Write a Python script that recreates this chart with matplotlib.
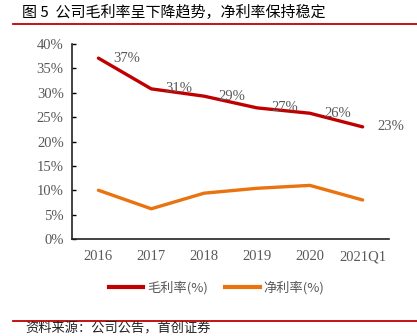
import matplotlib.pyplot as plt
import numpy as np
from matplotlib.lines import Line2D

plt.rcParams['font.family'] = ['Noto Sans CJK SC', 'DejaVu Sans']

years = ['2016', '2017', '2018', '2019', '2020', '2021Q1']
gross = [37.1, 30.8, 29.3, 26.9, 25.8, 23.0]
net = [10.0, 6.2, 9.4, 10.4, 11.0, 8.0]
gross_labels = ['37%', '31%', '29%', '27%', '26%', '23%']
yticks = [0, 5, 10, 15, 20, 25, 30, 35, 40]

red = '#C00000'
orange = '#E8730F'
grey = '#595959'
serif = 'Liberation Serif'

fig = plt.figure(figsize=(4.17, 3.36), dpi=100)
ax = fig.add_axes([0.1727, 0.2887, 0.933 - 0.1727, 0.869 - 0.2887])

x = np.arange(len(years))
ax.plot(x, gross, color=red, lw=2.4, solid_capstyle='round')
ax.plot(x, net, color=orange, lw=2.4, solid_capstyle='round')

for xi, yi, lab in zip(x, gross, gross_labels):
    ax.annotate(lab, (xi, yi), xytext=(20, 0), textcoords='offset points',
                ha='center', va='center', fontsize=10.5, color=grey, family=serif)

ax.set_xlim(-0.5, 5.5)
ax.set_ylim(0, 40)
ax.set_xticks(x)
ax.set_xticklabels(years, family=serif, fontsize=10.5, color=grey)
ax.set_yticks(yticks)
ax.set_yticklabels([f'{t}%' for t in yticks], family=serif, fontsize=10.5, color=grey)
ax.tick_params(axis='x', length=0, pad=8)
ax.tick_params(axis='y', direction='in', length=3, width=1, pad=6)
for s in ['top', 'right']:
    ax.spines[s].set_visible(False)
for s in ['left', 'bottom']:
    ax.spines[s].set_linewidth(1.2)
    ax.spines[s].set_color('#222222')

handles = [Line2D([], [], color=red, lw=3), Line2D([], [], color=orange, lw=3)]
fig.legend(handles, ['毛利率(%)', '净利率(%)'], loc='center', bbox_to_anchor=(0.52, 0.143),
           ncol=2, frameon=False, fontsize=9.5, handlelength=2.6, handletextpad=0.3,
           columnspacing=1.3, labelcolor=grey)

fig.text(0.053, 0.963, '图 5  公司毛利率呈下降趋势，净利率保持稳定', fontsize=10.8, va='center', ha='left')
fig.add_artist(Line2D([0.031, 1.0], [0.928, 0.928], color=red, lw=1.3, transform=fig.transFigure))
fig.add_artist(Line2D([0.031, 1.0], [0.044, 0.044], color=red, lw=1.3, transform=fig.transFigure))
fig.text(0.06, 0.0, '资料来源：公司公告，首创证券', fontsize=9.5, va='bottom', ha='left', color='#222222')

fig.savefig('out.png', dpi=100)
